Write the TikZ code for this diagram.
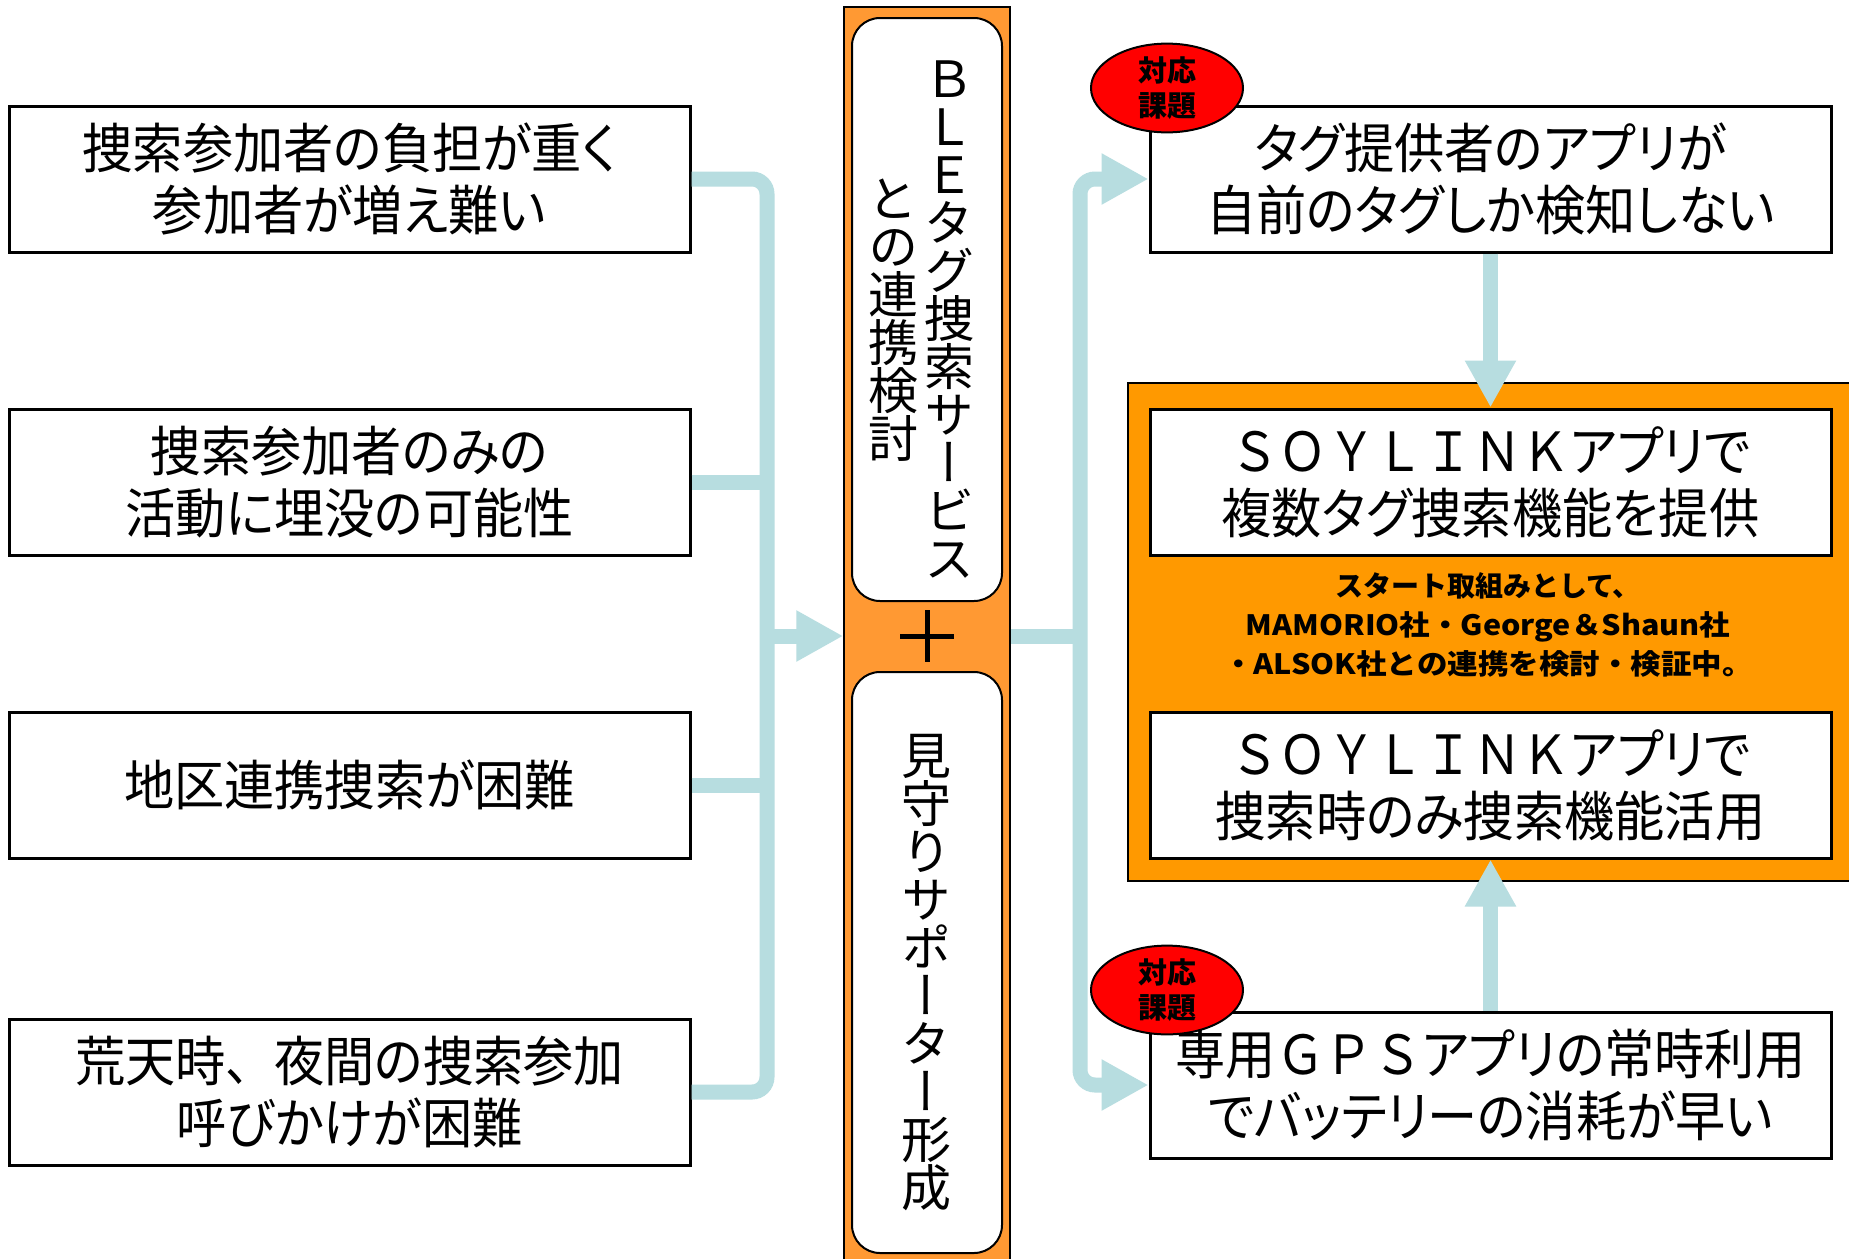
\documentclass[tikz,border=0pt]{standalone}
\usepackage{fontspec}
\usetikzlibrary{arrows.meta,shapes.geometric,calc}
\newfontfamily\jp[FakeStretch=0.93,RawFeature=+palt]{Noto Sans CJK JP}
\newfontfamily\jpw[FakeStretch=0.9]{Noto Sans CJK JP}
\newfontfamily\jpb{Noto Sans CJK JP}
\newfontfamily\jpbw[FakeStretch=1.09]{Noto Sans CJK JP}
\newfontfamily\jpv[RawFeature=+vert]{Noto Sans CJK JP}
\definecolor{lb}{RGB}{183,221,224}
\definecolor{colorange}{RGB}{255,153,51}
\definecolor{boxorange}{RGB}{255,153,0}
\tikzset{
  probbox/.style={draw=black, line width=1.5pt, fill=white, minimum width=340.5pt,
    minimum height=73pt, align=center, inner sep=0pt, font=\jp\fontsize{27}{31}\selectfont},
  conn/.style={draw=lb, line width=7.5pt},
  arr/.style={conn, -{Triangle[width=24pt,length=23.5pt]}},
  badge/.style={ellipse, draw=black, line width=1pt, fill=red, minimum width=76pt,
    minimum height=42pt, inner sep=0pt, align=center,
    font=\jpb\bfseries\fontsize{14.5}{17.5}\selectfont},
  rbox/.style={draw=black, line width=1pt, fill=white, rounded corners=14pt,
    minimum width=75pt, inner sep=0pt},
  vtext/.style={align=center, inner sep=0pt, font=\jpv\fontsize{25}{24}\selectfont},
}
\begin{document}
\begin{tikzpicture}[x=0.5pt,y=-0.5pt]
\useasboundingbox (0,0) rectangle (1849,1259);
\fill[white] (0,0) rectangle (1849,1259);

% left problem boxes
\node[probbox] (b1) at (349.5,179) {捜索参加者の負担が重く\\参加者が増え難い};
\node[probbox] (b2) at (349.5,482) {捜索参加者のみの\\活動に埋没の可能性};
\node[probbox] (b3) at (349.5,785) {地区連携捜索が困難};
\node[probbox] (b4) at (349.5,1092) {荒天時{\jpw 、}夜間の捜索参加\\呼びかけが困難};

% center column
\node[draw=black, line width=0.75pt, fill=colorange, minimum width=83pt,
  minimum height=631.5pt, inner sep=0pt] (col) at (927,638.5) {};
\node[rbox, minimum height=291.5pt] (top) at (927,309.5) {};
\node[rbox, minimum height=290.5pt] (bot) at (927,962.5) {};
\node[vtext] (t1) at (949,320) {Ｂ\\Ｌ\\Ｅ\\タ\\グ\\捜\\索\\サ\\ー\\ビ\\ス};
\node[vtext] (t2) at (893,320) {と\\の\\連\\携\\検\\討};
\node[vtext] (t3) at (926,973) {見\\守\\り\\サ\\ポ\\ー\\タ\\ー\\形\\成};
\coordinate (plus) at (927,636);
\draw[line width=2.5pt] ($(plus)+(-27,0)$) -- ($(plus)+(27,0)$);
\draw[line width=2.5pt] ($(plus)+(0,-26)$) -- ($(plus)+(0,26)$);

% left connectors
\coordinate (tl) at (767,636);
\draw[conn, rounded corners=7.5pt] (b1.east) -| (b4.east -| tl) -- (b4.east);
\draw[conn] (b2.east) -- (b2.east -| tl);
\draw[conn] (b3.east) -- (b3.east -| tl);
\draw[arr] (tl) -- (col.west |- plus);

% right side
\fill[boxorange, draw=black, line width=0.75pt] (1128,383) rectangle (1870,881);
\node[probbox] (r1) at (1490.5,179) {タグ提供者のアプリが\\自前のタグしか検知しない};
\node[probbox] (ra) at (1490.5,482) {{\jpw ＳＯＹＬＩＮＫ}アプリで\\複数タグ捜索機能を提供};
\node[probbox] (rb) at (1490.5,785) {{\jpw ＳＯＹＬＩＮＫ}アプリで\\捜索時のみ捜索機能活用};
\node[probbox] (rc) at (1490.5,1085) {専用{\jpw ＧＰＳ}アプリの常時利用\\でバッテリーの消耗が早い};
\node[align=center, inner sep=0pt, font=\jpb\bfseries\fontsize{14}{19.5}\selectfont] (note) at (1488,625)
  {スタート取組みとして、\\{\jpbw\bfseries MAMORIO社・George＆Shaun社}\\{\jpbw\bfseries ・ALSOK社との連携を検討・検証中。}};
\node[badge] (k1) at (1167,88) {対応\\課題};
\node[badge] (k2) at (1167,990) {対応\\課題};

\coordinate (tr) at (1080,636);
\draw[conn] (col.east |- plus) -- (tr);
\draw[conn, rounded corners=7.5pt, {Triangle[width=24pt,length=23.5pt]}-{Triangle[width=24pt,length=23.5pt]}]
  (r1.west) -| (rc.west -| tr) -- (rc.west);
\draw[arr] (r1.south) -- (ra.north);
\draw[arr] (rc.north) -- (rb.south);
\end{tikzpicture}
\end{document}
